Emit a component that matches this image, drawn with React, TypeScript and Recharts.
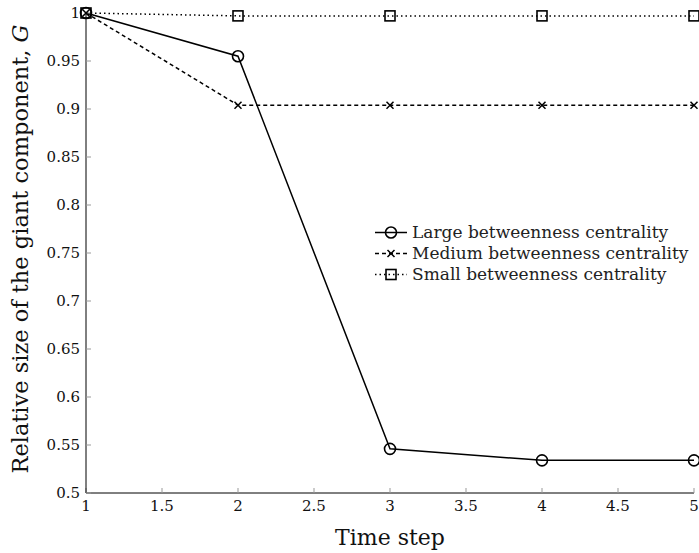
import { LineChart, Line, XAxis, YAxis, Legend } from 'recharts'

const steps = [1, 2, 3, 4, 5]
const largeBC = [1, 0.955, 0.546, 0.534, 0.534]
const mediumBC = [1, 0.904, 0.904, 0.904, 0.904]
const smallBC = [1, 0.997, 0.997, 0.997, 0.997]

const xTicks = [1, 1.5, 2, 2.5, 3, 3.5, 4, 4.5, 5]
const yTicks = [0.5, 0.55, 0.6, 0.65, 0.7, 0.75, 0.8, 0.85, 0.9, 0.95, 1]

const seriesNames = ['Large betweenness centrality', 'Medium betweenness centrality', 'Small betweenness centrality']

const FONT = '"DejaVu Serif", serif'

const data = steps.map((t, i) => ({ t, large: largeBC[i], medium: mediumBC[i], small: smallBC[i] }))

const CircleDot = (p: any) => (
  <circle key={`c${p.index}`} cx={p.cx} cy={p.cy} r={5.5} fill="none" stroke="#000" strokeWidth={1.6} />
)

const CrossDot = (p: any) => (
  <path
    key={`x${p.index}`}
    d={`M${p.cx - 3.5},${p.cy - 3.5}L${p.cx + 3.5},${p.cy + 3.5}M${p.cx - 3.5},${p.cy + 3.5}L${p.cx + 3.5},${p.cy - 3.5}`}
    stroke="#000"
    strokeWidth={1.5}
  />
)

const SquareDot = (p: any) => (
  <rect key={`s${p.index}`} x={p.cx - 5} y={p.cy - 5} width={10} height={10} fill="none" stroke="#000" strokeWidth={1.6} />
)

function LegendBox() {
  const rows = [
    { dash: undefined, mark: (cx: number, cy: number) => <circle cx={cx} cy={cy} r={5.5} fill="none" stroke="#000" strokeWidth={1.6} /> },
    { dash: '4 3', mark: (cx: number, cy: number) => <path d={`M${cx - 3.5},${cy - 3.5}L${cx + 3.5},${cy + 3.5}M${cx - 3.5},${cy + 3.5}L${cx + 3.5},${cy - 3.5}`} stroke="#000" strokeWidth={1.5} /> },
    { dash: '1.5 3', mark: (cx: number, cy: number) => <rect x={cx - 5} y={cy - 5} width={10} height={10} fill="none" stroke="#000" strokeWidth={1.6} /> },
  ]
  return (
    <div style={{ fontFamily: FONT, fontSize: 17, color: '#222', lineHeight: 1 }}>
      {rows.map((r, i) => (
        <div key={i} style={{ display: 'flex', alignItems: 'center', height: 21 }}>
          <svg width={34} height={21} style={{ marginRight: 4 }}>
            <line x1={1} y1={10.5} x2={33} y2={10.5} stroke="#000" strokeWidth={1.5} strokeDasharray={r.dash} />
            {r.mark(17, 10.5)}
          </svg>
          <span>{seriesNames[i]}</span>
        </div>
      ))}
    </div>
  )
}

const YLabel = (props: any) => {
  const { viewBox } = props
  const cx = 20
  const cy = viewBox.y + viewBox.height / 2 - 4
  return (
    <text x={cx} y={cy} transform={`rotate(-90, ${cx}, ${cy})`} textAnchor="middle" dominantBaseline="central" fontFamily={FONT} fontSize={22.5} fill="#111">
      Relative size of the giant component, <tspan fontStyle="italic">G</tspan>
    </text>
  )
}

export default function App() {
  return (
    <div style={{ position: 'absolute', left: 0, top: 0, background: '#fff' }}>
      <LineChart width={699} height={553} data={data} margin={{ top: 13, right: 5, left: 0, bottom: 0 }}>
        <XAxis
          dataKey="t"
          type="number"
          domain={[1, 5]}
          ticks={xTicks}
          height={60}
          tickSize={-5}
          tickMargin={12}
          axisLine={{ stroke: '#000' }}
          tickLine={{ stroke: '#999' }}
          tick={{ fontFamily: FONT, fontSize: 15, fill: '#111' }}
          label={{ value: 'Time step', position: 'insideBottom', offset: 8, fontFamily: FONT, fontSize: 22, fill: '#111' }}
        />
        <YAxis
          type="number"
          domain={[0.5, 1]}
          ticks={yTicks}
          width={86}
          tickSize={-5}
          tickMargin={11}
          axisLine={{ stroke: '#000' }}
          tickLine={{ stroke: '#999' }}
          tick={{ fontFamily: FONT, fontSize: 15, fill: '#111' }}
          label={<YLabel />}
        />
        <Legend
          layout="vertical"
          align="center"
          verticalAlign="middle"
          content={<LegendBox />}
          wrapperStyle={{ left: 374, top: 222, width: 320 }}
        />
        <Line dataKey="small" stroke="#000" strokeWidth={1.5} strokeDasharray="1.5 3" dot={SquareDot} isAnimationActive={false} />
        <Line dataKey="medium" stroke="#000" strokeWidth={1.5} strokeDasharray="4 3" dot={CrossDot} isAnimationActive={false} />
        <Line dataKey="large" stroke="#000" strokeWidth={1.5} dot={CircleDot} isAnimationActive={false} />
      </LineChart>
    </div>
  )
}
